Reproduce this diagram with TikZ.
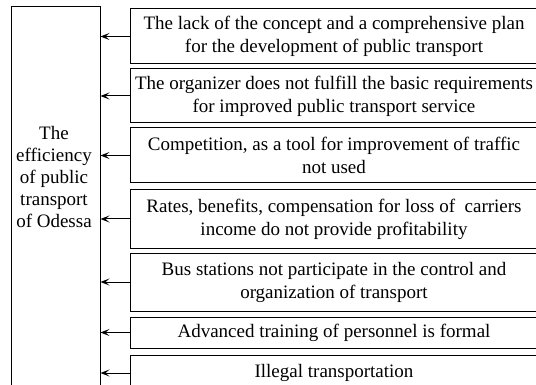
\documentclass[tikz,border=0pt]{standalone}
\usepackage{fontspec}
\setmainfont{Liberation Serif}
\usetikzlibrary{arrows.meta}
\begin{document}
\begin{tikzpicture}[x=1pt,y=-1pt,
	factor/.style={draw, line width=1pt, minimum width=408pt, align=center,
		font=\fontsize{19}{23}\selectfont, inner sep=0pt},
	arr/.style={line width=1pt, -{Stealth[length=9pt,width=7pt,inset=4pt]}}]
	\useasboundingbox (0,0) rectangle (536,385);
	%efficiency
	\node[draw, line width=1pt, minimum width=89pt, minimum height=390pt, inner sep=0pt] (eff) at (55.5,202) {};
	\node[align=center, font=\fontsize{19}{22}\selectfont] (efftext) at (54,177) {The\\efficiency\\of public\\transport\\of Odessa};
	%factors
	\node[factor, minimum height=55pt] (f1) at (334,36.5) {The lack of the concept and a comprehensive plan\\for the development of public transport};
	\node[factor, minimum height=54pt] (f2) at (334,96) {The organizer does not fulfill the basic requirements\\for improved public transport service};
	\node[factor, minimum height=55pt] (f3) at (334,155.5) {Competition, as a tool for improvement of traffic\\not used};
	\node[factor, minimum height=58pt] (f4) at (334,219) {Rates, benefits, compensation for loss of\ \ carriers\\income do not provide profitability};
	\node[factor, minimum height=58pt] (f5) at (334,282) {Bus stations not participate in the control and\\organization of transport};
	\node[factor, minimum height=31pt] (f6) at (334,332.5) {Advanced training of personnel is formal};
	\node[factor, minimum height=36pt] (f7) at (334,373) {Illegal transportation};
	%arrows
	\foreach \f in {f1,f2,f3,f4,f5,f6,f7}
		\draw[arr] (\f.west) -- (\f.west -| eff.east);
\end{tikzpicture}
\end{document}
